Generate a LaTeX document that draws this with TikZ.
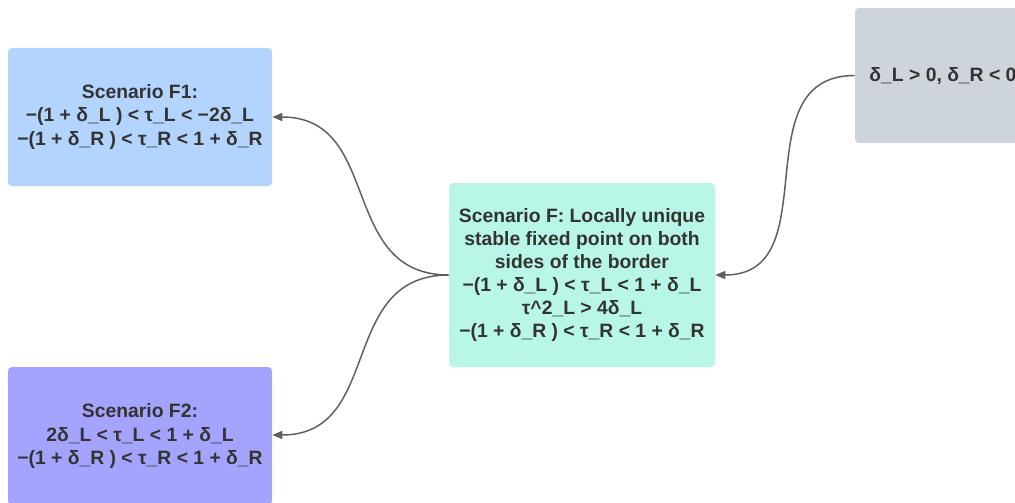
\documentclass[tikz,border=0pt]{standalone}
\usepackage{fontspec}
\setmainfont{Liberation Sans}
\usetikzlibrary{arrows.meta,positioning}

\definecolor{inkgray}{HTML}{333333}
\definecolor{linkgray}{HTML}{5E5E5E}
\definecolor{blueF1}{HTML}{B3D4FF}
\definecolor{purpleF2}{HTML}{A4A4FF}
\definecolor{mintF}{HTML}{B8F7E8}
\definecolor{grayC}{HTML}{CED4DC}

\begin{document}
\begin{tikzpicture}[
    x=0.75pt, y=-0.75pt,
    box/.style={rectangle, rounded corners=3pt, inner sep=0pt, align=center,
        text=inkgray, font=\fontsize{14.5}{17.4}\selectfont\bfseries},
    scen/.style={box, minimum width=198pt, minimum height=103.5pt},
    link/.style={draw=linkgray, line width=1.1pt,
        -{Triangle[length=7.5pt,width=6pt]}, out=180, in=0, looseness=1.2}
]
    \useasboundingbox (0,0) rectangle (1015,503);

    % Scenario F1
    \node[scen, fill=blueF1] (f1) at (140,117)
        {Scenario F1:\\−(1 + δ\_L ) < τ\_L < −2δ\_L\\−(1 + δ\_R ) < τ\_R < 1 + δ\_R};

    % Scenario F2
    \node[scen, fill=purpleF2] (f2) at (140,436)
        {Scenario F2:\\2δ\_L < τ\_L < 1 + δ\_L\\−(1 + δ\_R ) < τ\_R < 1 + δ\_R};

    % Scenario F
    \node[box, fill=mintF, minimum width=199.5pt, minimum height=138pt] (f) at (582,275)
        {Scenario F: Locally unique\\stable fixed point on both\\sides of the border\\
         −(1 + δ\_L ) < τ\_L < 1 + δ\_L\\τ\textasciicircum 2\_L > 4δ\_L\\
         −(1 + δ\_R ) < τ\_R < 1 + δ\_R};

    % Condition
    \node[box, fill=grayC, minimum width=132pt, minimum height=101.25pt] (cond) at (943,75.5)
        {δ\_L > 0, δ\_R < 0};

    % Connectors
    \draw[link] (cond.west) to (f.east);
    \draw[link] (f.west) to (f1.east);
    \draw[link] (f.west) to (f2.east |- 0,435);
\end{tikzpicture}
\end{document}
